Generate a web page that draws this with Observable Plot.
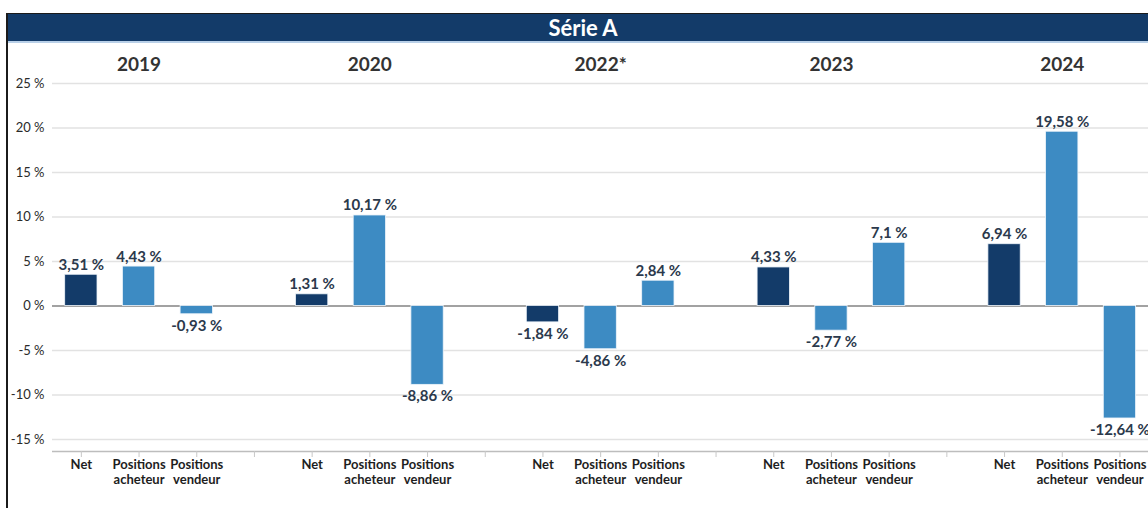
<!DOCTYPE html>
<html>
<head>
<meta charset="utf-8">
<script src="https://cdn.jsdelivr.net/npm/d3@7"></script>
<script src="https://cdn.jsdelivr.net/npm/@observablehq/plot@0.6"></script>
<style>
  html, body { margin: 0; padding: 0; background: #fff; }
  body { width: 1148px; height: 508px; overflow: hidden; position: relative; font-family: Lato, "Open Sans", sans-serif; }
  #chart { position: absolute; left: 0; top: 44px; }
  #frame { position: absolute; left: 6px; top: 13px; width: 1160px; height: 500px;
           border-left: 2px solid #1b1b1b; border-top: 1.5px solid #1b1b1b; pointer-events: none; }
  #title { position: absolute; left: 0; top: 0; width: 1150px; height: 27px; background: #133b69;
           border-bottom: 2px solid #b9d0e8; color: #fff; font: bold 22px Lato, sans-serif;
           text-align: center; line-height: 27px; }
</style>
</head>
<body>
<div id="chart"></div>
<div id="frame"><div id="title">Série A</div></div>
<script>
// Data
const years = ["2019", "2020", "2022*", "2023", "2024"];
const categories = ["Net", "Positions acheteur", "Positions vendeur"];
const categoryLabels = ["Net", "Positions\nacheteur", "Positions\nvendeur"];
const netValues = [3.51, 1.31, -1.84, 4.33, 6.94];
const acheteurValues = [4.43, 10.17, -4.86, -2.77, 19.58];
const vendeurValues = [-0.93, -8.86, 2.84, 7.1, -12.64];
const yTicks = [-15, -10, -5, 0, 5, 10, 15, 20, 25];
const yDomain = [-16.35, 25];

const seriesValues = [netValues, acheteurValues, vendeurValues];
const SEP = "sep";
const keys = [];
const labelOf = {};
years.forEach(y => {
  categories.forEach((c, i) => { const k = y + "|" + c; keys.push(k); labelOf[k] = categoryLabels[i]; });
  const s = y + "|" + SEP; keys.push(s); labelOf[s] = "";
});
const rows = [];
years.forEach((y, yi) => categories.forEach((c, ci) => {
  rows.push({key: y + "|" + c, year: y, cat: c, value: seriesValues[ci][yi]});
}));
const yearRows = years.map(y => ({year: y, key: y + "|" + categories[1]}));
const fmt = v => String(v).replace(".", ",") + " %";

const chart = Plot.plot({
  width: 1210,
  height: 464,
  marginLeft: 52,
  marginRight: 4,
  marginTop: 39,
  marginBottom: 57,
  style: {maxWidth: "none", background: "transparent", overflow: "visible", fontFamily: "Lato, sans-serif", color: "#222"},
  x: {type: "band", domain: keys, paddingInner: 0.44, paddingOuter: 0.22, round: false, axis: null, label: null},
  y: {domain: yDomain, axis: null, label: null},
  marks: [
    Plot.ruleY(yTicks, {stroke: "#e2e2e2", strokeWidth: 1.5}),
    Plot.ruleY([0], {stroke: "#8a8a8a", strokeWidth: 1.5}),
    Plot.ruleY([yDomain[0]], {stroke: "#bdbdbd", strokeWidth: 1.5}),
    Plot.axisY({ticks: yTicks, tickSize: 0, tickPadding: 8, fontSize: 13, fill: "#2a2a2a", label: null,
      tickFormat: d => d + " %"}),
    Plot.axisX({tickSize: 6, tickPadding: 0, stroke: "#c8c8c8", fill: "#1e1e1e", fontSize: 13, fontWeight: "bold",
      lineHeight: 1.2, label: null, tickFormat: k => labelOf[k]}),
    Plot.barY(rows, {x: "key", y: "value", fill: d => d.cat === "Net" ? "#133b69" : "#3d8bc3",
      stroke: "#eef4fa", strokeWidth: 0.8}),
    Plot.text(rows.filter(d => d.value >= 0), {x: "key", y: "value", text: d => fmt(d.value),
      lineAnchor: "bottom", dy: -5, fontSize: 15, fontWeight: "bold", fill: "#2b394c", letterSpacing: "0.3px"}),
    Plot.text(rows.filter(d => d.value < 0), {x: "key", y: "value", text: d => fmt(d.value),
      lineAnchor: "top", dy: 6, fontSize: 15, fontWeight: "bold", fill: "#2b394c", letterSpacing: "0.3px"}),
    Plot.text(yearRows, {x: "key", frameAnchor: "top", dy: -19, text: "year",
      fontSize: 19, fontWeight: "bold", fill: "#333", lineAnchor: "middle"})
  ]
});
document.getElementById("chart").appendChild(chart);
</script>
</body>
</html>
